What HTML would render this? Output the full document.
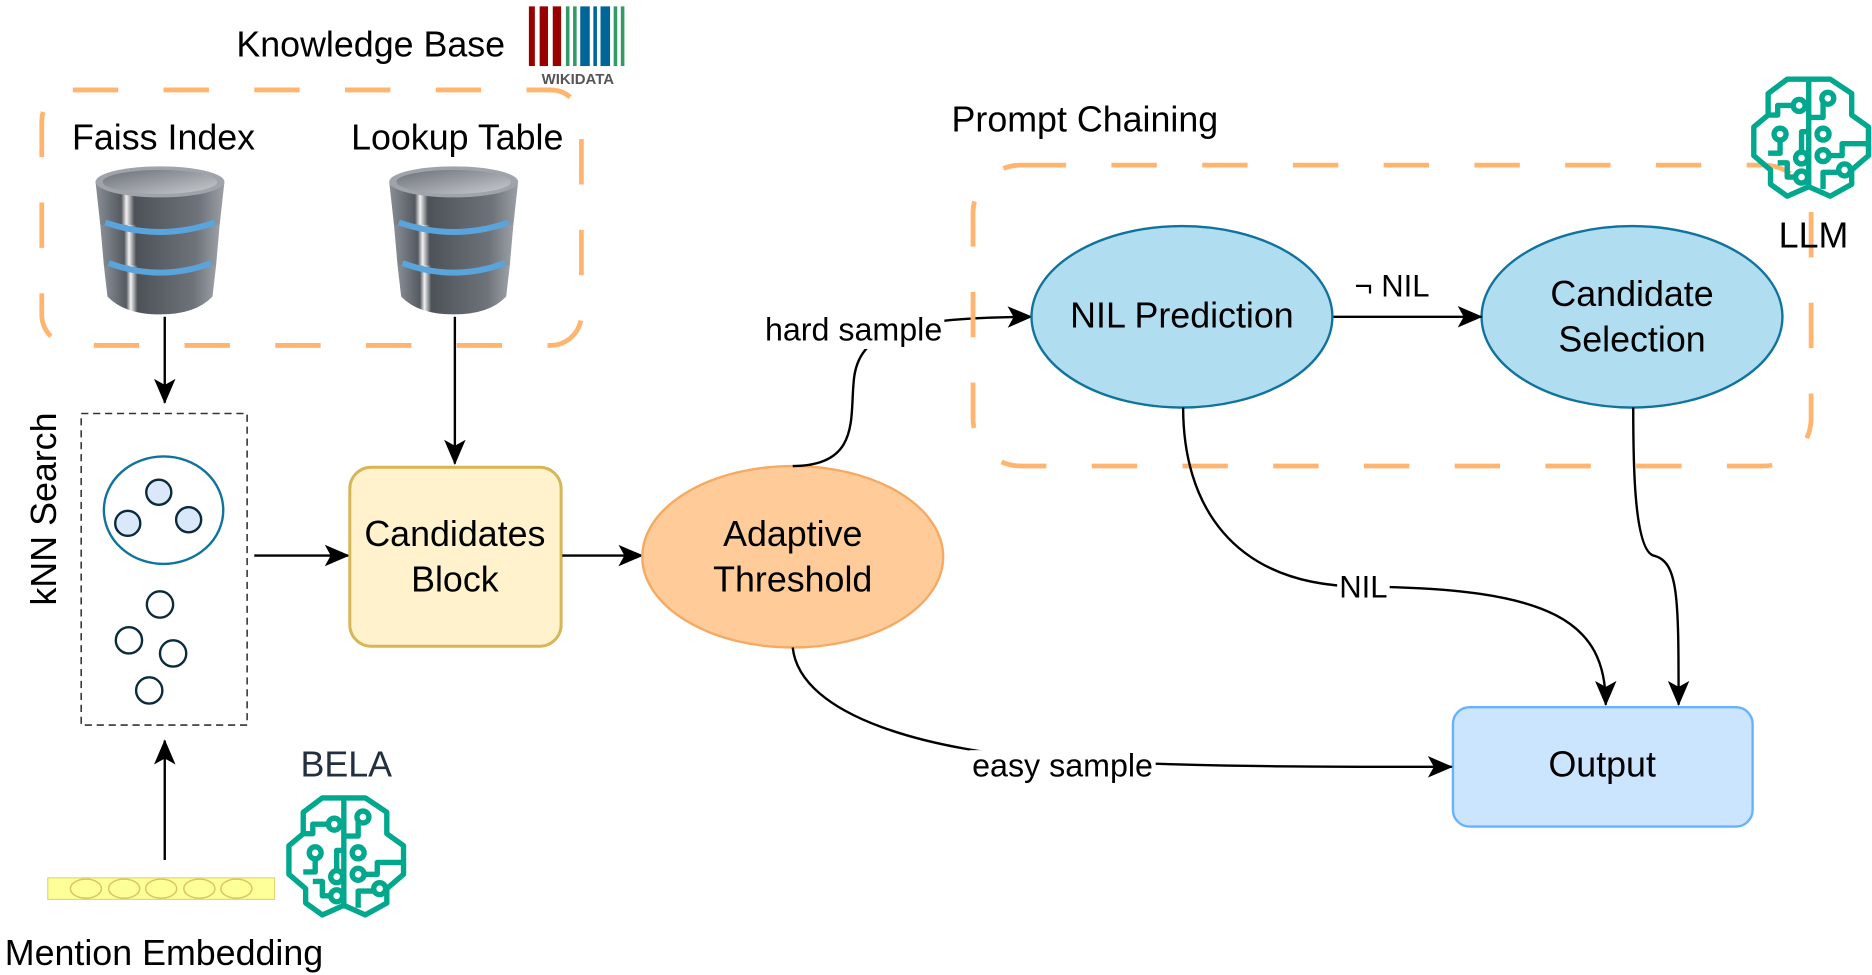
<!DOCTYPE html>
<html><head><meta charset="utf-8"><style>
html,body{margin:0;padding:0;background:#fff;}
svg{display:block;}
text{font-family:"Liberation Sans",Arial,sans-serif;}
</style></head><body>
<svg width="1872" height="975" viewBox="0 0 1568 816" xmlns="http://www.w3.org/2000/svg">
<defs>
<marker id="ar2" markerWidth="22" markerHeight="22" refX="20" refY="11" orient="auto" markerUnits="userSpaceOnUse" viewBox="0 0 22 22">
<path d="M0,2 L21,11 L0,20 L5,11 Z" fill="#000"/></marker>
<linearGradient id="dbg" x1="0" x2="1" y1="0" y2="0">
<stop offset="0" stop-color="#8a8e95"/><stop offset="0.2" stop-color="#555a61"/><stop offset="0.24" stop-color="#f2f2f2"/><stop offset="0.3" stop-color="#4d5259"/><stop offset="0.8" stop-color="#6e737a"/><stop offset="1" stop-color="#9ca0a6"/></linearGradient>
<linearGradient id="dbt" x1="0" x2="1" y1="0" y2="1">
<stop offset="0" stop-color="#6b7078"/><stop offset="1" stop-color="#c9ccd0"/></linearGradient>
<g id="db">
<path d="M-54,-78 L-50,-42 Q0,-30 50,-42 L54,-78 Z" fill="url(#dbg)"/>
<path d="M-50,-42 L-47,-8 Q0,4 47,-8 L50,-42 Z" fill="url(#dbg)"/>
<path d="M-47,-8 L-44,18 Q-30,33 0,33 Q30,33 44,18 L47,-8 Z" fill="url(#dbg)"/>
<ellipse cx="0" cy="-78" rx="54" ry="13" fill="#a0a4aa"/>
<ellipse cx="0" cy="-78" rx="48" ry="10" fill="url(#dbt)"/>
<path d="M-46,-44 Q0,-28 46,-44" stroke="#5aa4dc" stroke-width="5" fill="none"/>
<path d="M-43,-10 Q0,6 43,-10" stroke="#5aa4dc" stroke-width="5" fill="none"/>
</g>
<g id="brain" fill="none" stroke="#01a88d" stroke-width="4.5" stroke-linejoin="round">
<path d="M48,4 L30,4 L14,16 L14,34 L2,44 L2,68 L16,80 L16,92 L30,102 L48,94 Z"/>
<path d="M48,4 L66,4 L84,16 L84,34 L98,44 L98,68 L84,80 L84,92 L66,102 L48,94"/>
<path d="M14,34 L22,34 L22,26 L34,26"/><circle cx="40" cy="26" r="5"/>
<circle cx="24" cy="50" r="5"/>
<path d="M24,56 L24,66 L14,66"/>
<path d="M48,48 L42,48 L42,64"/><circle cx="42" cy="70" r="5"/>
<path d="M22,74 L30,74 L30,86 L36,86"/><circle cx="42" cy="86" r="5"/>
<path d="M48,36 L60,36 L60,24"/><circle cx="64" cy="20" r="5"/>
<circle cx="60" cy="50" r="5"/>
<path d="M98,58 L76,58 L76,68 L66,68"/><circle cx="60" cy="68" r="5"/>
<path d="M60,96 L60,82 L72,82"/><circle cx="78" cy="80" r="5"/>
</g>
</defs>

<!-- Knowledge base -->
<text x="198" y="47" font-size="30">Knowledge Base</text>
<g>
<rect x="443" y="5" width="5" height="50" fill="#990000"/>
<rect x="452" y="5" width="7" height="50" fill="#990000"/><rect x="463" y="5" width="7" height="50" fill="#990000"/>
<rect x="474" y="5" width="3" height="50" fill="#339966"/><rect x="480" y="5" width="3" height="50" fill="#339966"/>
<rect x="486" y="5" width="8" height="50" fill="#006699"/><rect x="497" y="5" width="3" height="50" fill="#006699"/>
<rect x="503" y="5" width="8" height="50" fill="#006699"/><rect x="514" y="5" width="3" height="50" fill="#339966"/>
<rect x="520" y="5" width="3" height="50" fill="#339966"/>
<text x="484" y="70" font-size="12.5" font-weight="bold" fill="#555" text-anchor="middle">WIKIDATA</text>
</g>
<rect x="35" y="75" width="452" height="214" rx="26" fill="none" stroke="#ffb570" stroke-width="4" stroke-dasharray="38 38"/>
<text x="137" y="125" font-size="30" text-anchor="middle">Faiss Index</text>
<text x="383" y="125" font-size="30" text-anchor="middle">Lookup Table</text>
<use href="#db" x="134" y="230"/>
<use href="#db" x="380" y="230"/>
<line x1="138" y1="265" x2="138" y2="337" stroke="#000" stroke-width="2" marker-end="url(#ar2)"/>
<line x1="381" y1="265" x2="381" y2="388" stroke="#000" stroke-width="2" marker-end="url(#ar2)"/>

<!-- kNN -->
<rect x="68" y="346" width="139" height="261" fill="none" stroke="#333" stroke-width="1.3" stroke-dasharray="6 4"/>
<text transform="translate(47,426) rotate(-90)" font-size="30" text-anchor="middle">kNN Search</text>
<ellipse cx="137" cy="427" rx="50" ry="45" fill="none" stroke="#10739e" stroke-width="2"/>
<g fill="#dae8fc" stroke="#0b2a3a" stroke-width="2">
<circle cx="133" cy="412" r="10.5"/><circle cx="107" cy="438" r="10.5"/><circle cx="158" cy="435" r="10.5"/></g>
<g fill="none" stroke="#0b2a3a" stroke-width="2">
<circle cx="134" cy="506" r="11"/><circle cx="108" cy="536" r="11"/><circle cx="145" cy="547" r="11"/><circle cx="125" cy="578" r="11"/></g>
<line x1="213" y1="465" x2="292" y2="465" stroke="#000" stroke-width="2" marker-end="url(#ar2)"/>

<!-- Candidates block -->
<rect x="293" y="391" width="177" height="150" rx="18" fill="#fff2cc" stroke="#d6b656" stroke-width="2.5"/>
<text x="381" y="457" font-size="30" text-anchor="middle">Candidates</text>
<text x="381" y="495" font-size="30" text-anchor="middle">Block</text>
<line x1="471" y1="465" x2="538" y2="465" stroke="#000" stroke-width="2" marker-end="url(#ar2)"/>

<!-- Adaptive Threshold -->
<ellipse cx="664" cy="466" rx="126" ry="76" fill="#ffcc99" stroke="#f5a962" stroke-width="2"/>
<text x="664" y="457" font-size="30" text-anchor="middle">Adaptive</text>
<text x="664" y="495" font-size="30" text-anchor="middle">Threshold</text>

<!-- hard sample -->
<path d="M664,390 C720,390 712,350 715,320 C718,275 760,266 864,265" fill="none" stroke="#000" stroke-width="2" marker-end="url(#ar2)"/>
<rect x="637" y="262" width="154" height="30" fill="#fff"/>
<text x="715" y="285" font-size="27" text-anchor="middle">hard sample</text>

<!-- Prompt chaining -->
<text x="797" y="110" font-size="30">Prompt Chaining</text>
<rect x="815" y="138" width="702" height="252" rx="40" fill="none" stroke="#ffb570" stroke-width="4" stroke-dasharray="38 38"/>
<ellipse cx="990" cy="265" rx="126" ry="76" fill="#b1ddf0" stroke="#10739e" stroke-width="2"/>
<text x="990" y="274" font-size="30" text-anchor="middle">NIL Prediction</text>
<ellipse cx="1367" cy="265" rx="126" ry="76" fill="#b1ddf0" stroke="#10739e" stroke-width="2"/>
<text x="1367" y="256" font-size="30" text-anchor="middle">Candidate</text>
<text x="1367" y="294" font-size="30" text-anchor="middle">Selection</text>
<line x1="1117" y1="265" x2="1241" y2="265" stroke="#000" stroke-width="2" marker-end="url(#ar2)"/>
<text x="1166" y="248" font-size="26" text-anchor="middle">¬ NIL</text>

<use href="#brain" x="1467" y="62"/>
<text x="1519" y="207" font-size="30" text-anchor="middle">LLM</text>

<!-- Output -->
<rect x="1217" y="592" width="251" height="100" rx="14" fill="#cce5ff" stroke="#66b2ff" stroke-width="2"/>
<text x="1342" y="650" font-size="30" text-anchor="middle">Output</text>

<path d="M991,341 C991,420 1030,490 1140,491 C1300,492 1345,520 1345,590" fill="none" stroke="#000" stroke-width="2" marker-end="url(#ar2)"/>
<rect x="1120" y="478" width="44" height="28" fill="#fff"/>
<text x="1142" y="500" font-size="26" text-anchor="middle">NIL</text>
<path d="M1368,341 C1368,380 1368,460 1385,465 C1406,470 1406,500 1406,590" fill="none" stroke="#000" stroke-width="2" marker-end="url(#ar2)"/>

<path d="M664,542 C670,600 780,630 890,636 C1000,642 1100,642 1216,642" fill="none" stroke="#000" stroke-width="2" marker-end="url(#ar2)"/>
<rect x="812" y="628" width="156" height="28" fill="#fff"/>
<text x="890" y="650" font-size="27" text-anchor="middle">easy sample</text>

<!-- BELA / mention -->
<line x1="138" y1="720" x2="138" y2="620" stroke="#000" stroke-width="2" marker-end="url(#ar2)"/>
<rect x="40" y="735" width="190" height="18" fill="#ffff99" stroke="#e0d870" stroke-width="1"/>
<g fill="none" stroke="#d8c860" stroke-width="1.3">
<ellipse cx="72" cy="744" rx="13" ry="8"/><ellipse cx="104" cy="744" rx="13" ry="8"/><ellipse cx="135" cy="744" rx="13" ry="8"/><ellipse cx="167" cy="744" rx="13" ry="8"/><ellipse cx="198" cy="744" rx="13" ry="8"/></g>
<text x="290" y="650" font-size="30" fill="#232f3e" text-anchor="middle">BELA</text>
<use href="#brain" x="240" y="664"/>
<text x="4" y="808" font-size="30">Mention Embedding</text>
</svg>
</body></html>
